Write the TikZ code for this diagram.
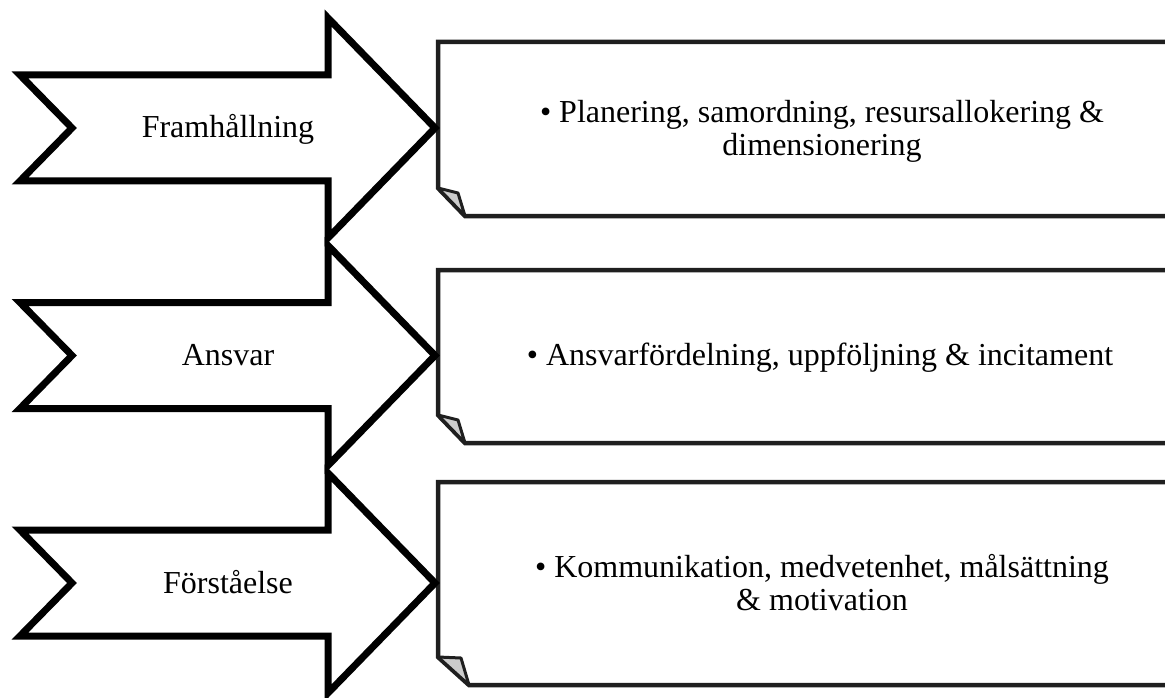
\documentclass[tikz,border=0pt]{standalone}
\usepackage{fontspec}
\setmainfont{Liberation Serif}
\begin{document}
\begin{tikzpicture}[x=1pt,y=-1pt,
  arrowshape/.style={draw=black, fill=white, line width=7pt, line join=miter, miter limit=20},
  notebox/.style={draw=black!88, fill=white, line width=4.5pt, line join=miter},
  foldtri/.style={draw=black!88, fill=black!20, line width=3pt, line join=round},
  lbl/.style={font=\fontsize{32}{34}\selectfont, inner sep=0pt, anchor=base},
  txt/.style={font=\fontsize{32}{33}\selectfont, align=center, inner sep=0pt}]
\useasboundingbox (0,0) rectangle (1165,698);
\clip (0,0) rectangle (1165,698);

% note boxes with folded lower-left corner
\foreach \t/\b/\fx/\fy/\cx in {42/216/458/193/465, 270/443/458/420/465, 482/685/461/658/469}{
  \draw[notebox] (1175,\t) -- (438,\t) -- (438,\b-28) -- (\cx,\b) -- (1175,\b);
  \draw[foldtri] (438,\b-28) -- (\fx,\fy) -- (\cx,\b) -- cycle;
}

% chevron arrows
\foreach \c in {128,355.5,583}{
  \draw[arrowshape] (20,\c-53) -- (328,\c-53) -- (328,\c-110) -- (435,\c)
    -- (328,\c+110) -- (328,\c+53) -- (20,\c+53) -- (72,\c) -- cycle;
}

\node[lbl] (a1) at (228,137.5) {Framhållning};
\node[lbl] (a2) at (228,365) {Ansvar};
\node[lbl] (a3) at (228,593) {Förståelse};

\node[txt] (b1) at (822,131.5) {• Planering, samordning, resursallokering \&\\ dimensionering};
\node[txt] (b2) at (820,357.5) {• Ansvarfördelning, uppföljning \& incitament};
\node[txt] (b3) at (822,582.5) {• Kommunikation, medvetenhet, målsättning\\ \& motivation};
\end{tikzpicture}
\end{document}
